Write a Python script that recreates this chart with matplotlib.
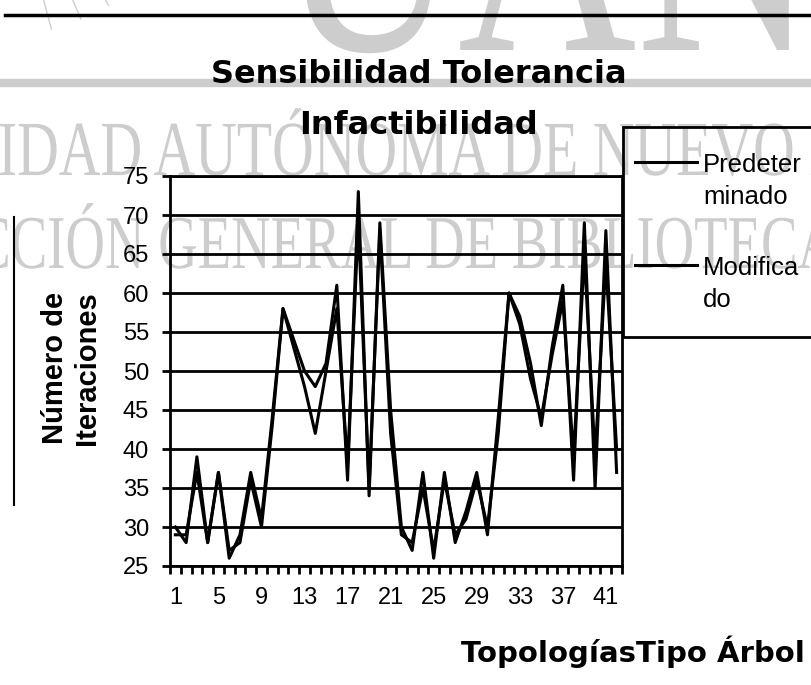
import numpy as np
import matplotlib
matplotlib.use("Agg")
import matplotlib.pyplot as plt
import matplotlib.transforms as mtransforms
from matplotlib.font_manager import FontProperties
from matplotlib.textpath import TextPath
from matplotlib.patches import PathPatch, Rectangle, Arc
from matplotlib.lines import Line2D

# ---- data: iterations per tree topology ----
topologias = np.arange(1, 43)
predeterminado = [30, 28, 39, 28, 37, 26, 29, 37, 31, 44, 58, 54, 50, 48, 51, 61, 36, 73, 34, 69, 45,
                  30, 27, 37, 26, 37, 28, 32, 37, 29, 44, 60, 57, 51, 43, 53, 61, 36, 69, 35, 68, 37]
modificado = [29, 29, 37, 28, 37, 27, 28, 36, 30, 43, 58, 53, 48, 42, 50, 58, 38, 69, 35, 68, 42,
              29, 28, 35, 27, 36, 29, 31, 36, 30, 42, 60, 56, 49, 44, 52, 59, 39, 65, 39, 64, 40]
series_names = ["Predeter\nminado", "Modifica\ndo"]
y_ticks = [25, 30, 35, 40, 45, 50, 55, 60, 65, 70, 75]
x_labels = [1, 5, 9, 13, 17, 21, 25, 29, 33, 37, 41]

W, H = 811, 685
GRAY = "#cdcdcd"

fig = plt.figure(figsize=(W / 100, H / 100), dpi=100)


def fx(x):
    return x / W


def fy(y):
    return 1 - y / H


def watermark(text, lead, anchor_x, baseline, size_px, stretch):
    # condensed serif text drawn as a path; the letter after `lead`
    # starts at anchor_x (pixels from the left edge)
    prop = FontProperties(family="Liberation Serif")
    path = TextPath((0, 0), text, size=100, prop=prop)
    start = 0
    if lead:
        nxt = text[len(lead)]
        start = (TextPath((0, 0), lead + nxt, size=100, prop=prop).get_extents().x1
                 - TextPath((0, 0), nxt, size=100, prop=prop).get_extents().width)
    sx = size_px / 100 * stretch
    sy = size_px / 100
    tr = mtransforms.Affine2D().scale(sx, sy).translate(anchor_x - start * sx, H - baseline)
    fig.add_artist(PathPatch(path, transform=tr, facecolor=GRAY, edgecolor="none", zorder=-5))


# background seal and library stamp
watermark("UANL", "", 279, 50, 330, 0.75)
watermark("UNIVERSIDAD AUTÓNOMA DE NUEVO LEÓN", "UNIVERS", 0, 175, 78, 0.74)
watermark("DIRECCIÓN GENERAL DE BIBLIOTECAS", "DIREC", 13, 268, 76, 0.72)
fig.add_artist(Line2D([0, 1], [fy(83), fy(83)], color=GRAY, lw=6, zorder=-5))
seal = mtransforms.Affine2D().scale(1, -1).translate(0, H)
fig.add_artist(Arc((-10, -200), 474, 474, theta1=-90, theta2=0, transform=seal,
                   color=GRAY, lw=2, zorder=-5))
for ang in np.linspace(-75, -30, 7):
    t = np.deg2rad(ang)
    fig.add_artist(Line2D([-10 + 200 * np.cos(t), -10 + 237 * np.cos(t)],
                          [-200 - 200 * np.sin(t), -200 - 237 * np.sin(t)],
                          transform=seal, color=GRAY, lw=1, zorder=-5))

# page rule and margin line
fig.add_artist(Line2D([fx(5), 1], [fy(15), fy(15)], color="black", lw=2.5))
fig.add_artist(Line2D([fx(14), fx(14)], [fy(217), fy(505)], color="black", lw=1.5))

ax = fig.add_axes([fx(170), fy(566), 452 / W, 390 / H])
ax.set_facecolor("none")

l1, = ax.plot(topologias, predeterminado, color="black", lw=2.2, zorder=3)
l2, = ax.plot(topologias, modificado, color="black", lw=2.2, zorder=3)

ax.set_xlim(0.5, 42.5)
ax.set_ylim(25, 75)
ax.set_yticks(y_ticks)
ax.yaxis.grid(True, color="black", lw=2)
ax.set_axisbelow(True)
ax.set_xticks(x_labels)
ax.set_xticks(np.arange(0.5, 43, 1), minor=True)
ax.tick_params(axis="x", which="major", length=0, pad=15)
ax.tick_params(axis="x", which="minor", length=6, width=2, direction="out")
ax.tick_params(axis="y", length=6, width=2, pad=9)
for lab in ax.get_xticklabels() + ax.get_yticklabels():
    lab.set_fontfamily("Liberation Sans")
    lab.set_fontsize(17)
for sp in ax.spines.values():
    sp.set_linewidth(2)

fig.text(fx(419), fy(100), "Sensibilidad Tolerancia\nInfactibilidad", ha="center", va="center",
         fontsize=23, fontweight="bold", family="DejaVu Sans", linespacing=1.85)
fig.text(fx(71), fy(368), "Número de\nIteraciones", rotation=90, ha="center", va="center",
         fontsize=21, fontweight="bold", family="Liberation Sans", linespacing=1.2)
fig.text(fx(805), fy(652), "TopologíasTipo Árbol", ha="right", va="center",
         fontsize=21, fontweight="bold", family="DejaVu Sans")

# legend box, running off the right edge
fig.add_artist(Rectangle((fx(623), fy(337)), (830 - 623) / W, 210 / H, fill=False,
                         edgecolor="black", lw=2, transform=fig.transFigure))
for line, name, y_line, y_text in [(l1, series_names[0], 162, 181), (l2, series_names[1], 265, 284)]:
    fig.add_artist(Line2D([fx(635), fx(697)], [fy(y_line), fy(y_line)],
                          color=line.get_color(), lw=line.get_linewidth()))
    fig.text(fx(703), fy(y_text), name, ha="left", va="center", fontsize=18.5,
             family="Liberation Sans", linespacing=1.45)

plt.savefig("out.png", dpi=100)
